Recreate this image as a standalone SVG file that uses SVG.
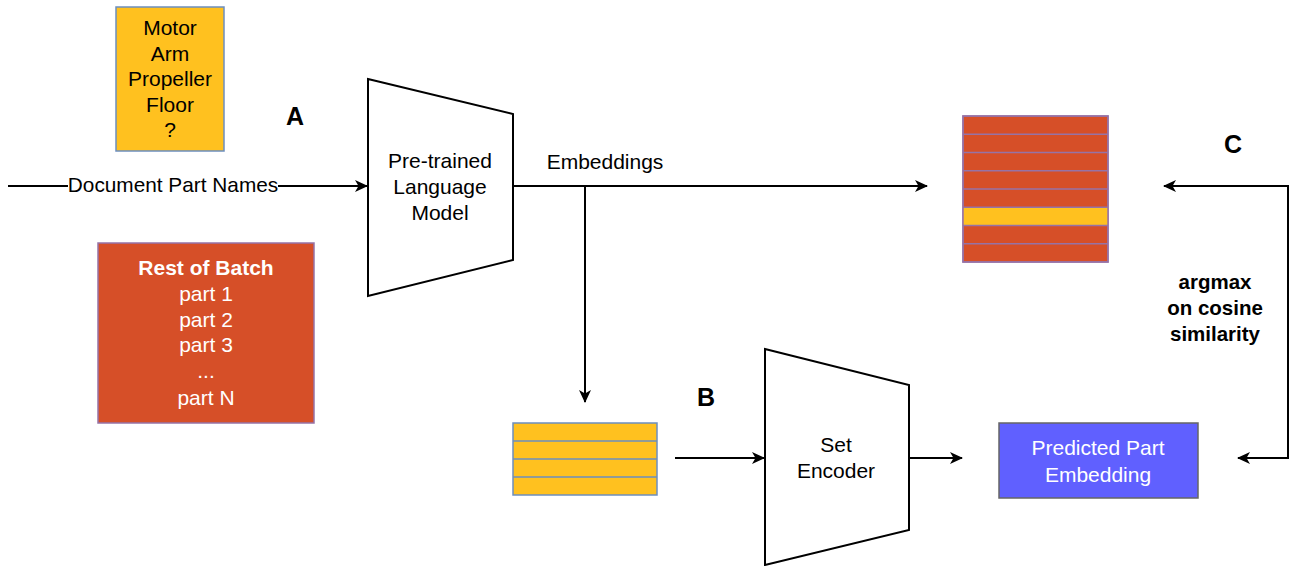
<svg xmlns="http://www.w3.org/2000/svg" width="1291" height="566" viewBox="0 0 1291 566">
<style>
text{font-family:"Liberation Sans",Arial,sans-serif;text-anchor:middle;fill:#000}
.t{font-size:21px}
.w{fill:#fff}
.b{font-weight:bold}
.big{font-size:25px;font-weight:bold}
.ln{fill:none;stroke:#000;stroke-width:2}
.yel{fill:#FFC11F}
.org{fill:#D64F28}
.trap{fill:#fff;stroke:#000;stroke-width:2;stroke-linejoin:miter}
</style>
<defs>
<marker id="ah" viewBox="0 0 13 12" markerWidth="13" markerHeight="12" refX="12" refY="6" orient="auto-start-reverse" markerUnits="userSpaceOnUse">
<path d="M0,0 L13,6 L0,12 L3.5,6 Z" fill="#000"/>
</marker>
</defs>
<rect width="1291" height="566" fill="#fff"/>

<g id="connectors">
<path class="ln" d="M8,186 H367" marker-end="url(#ah)"/>
<path class="ln" d="M513,186 H927" marker-end="url(#ah)"/>
<path class="ln" d="M585,186 V402" marker-end="url(#ah)"/>
<path class="ln" d="M675,458 H764" marker-end="url(#ah)"/>
<path class="ln" d="M909,458 H962" marker-end="url(#ah)"/>
<path class="ln" d="M1238,458 H1288 V186 H1164" marker-start="url(#ah)" marker-end="url(#ah)"/>
<rect x="68" y="174" width="210" height="24" fill="#fff"/>
<text class="t" x="173" y="192" style="font-size:20.8px">Document Part Names</text>
<text class="t" x="605" y="169">Embeddings</text>
<text x="1215" y="289" style="font-weight:bold;font-size:20.5px">argmax</text>
<text x="1215" y="315" style="font-weight:bold;font-size:20.5px">on cosine</text>
<text x="1215" y="341" style="font-weight:bold;font-size:20.5px">similarity</text>
</g>

<g id="label-A"><text class="big" x="295" y="125">A</text></g>
<g id="label-B"><text class="big" x="706" y="406">B</text></g>
<g id="label-C"><text class="big" x="1233" y="153">C</text></g>

<g id="part-names">
<rect x="116" y="7" width="108" height="144" class="yel" stroke="#6c8ebf" stroke-width="1.5"/>
<text class="t" x="170" y="35">Motor</text>
<text class="t" x="170" y="60.5">Arm</text>
<text class="t" x="170" y="86">Propeller</text>
<text class="t" x="170" y="112">Floor</text>
<text class="t" x="170" y="137">?</text>
</g>

<g id="rest-of-batch">
<rect x="98" y="243" width="216" height="180" class="org" stroke="#9673a6" stroke-width="1.5"/>
<text class="t w b" x="206" y="275">Rest of Batch</text>
<text class="t w" x="206" y="301">part 1</text>
<text class="t w" x="206" y="327">part 2</text>
<text class="t w" x="206" y="352">part 3</text>
<text class="t w" x="206" y="378">...</text>
<text class="t w" x="206" y="405">part N</text>
</g>

<g id="language-model">
<polygon class="trap" points="368,79 513,114 513,260 368,296"/>
<text class="t" x="440" y="168">Pre-trained</text>
<text class="t" x="440" y="194">Language</text>
<text class="t" x="440" y="220">Model</text>
</g>

<g id="embedding-table">
<rect x="963" y="116" width="145" height="146" class="org" stroke="#9673a6" stroke-width="1.5"/>
<rect x="963" y="207.25" width="145" height="18.25" class="yel"/>
<path d="M963,134.25 H1108 M963,152.5 H1108 M963,170.75 H1108 M963,189 H1108 M963,207.25 H1108 M963,225.5 H1108 M963,243.75 H1108" stroke="#9673a6" stroke-width="1.5"/>
<rect x="963" y="116" width="145" height="146" fill="none" stroke="#9673a6" stroke-width="1.5"/>
</g>

<g id="set-embeddings">
<rect x="513" y="423" width="144" height="72" class="yel" stroke="#6c8ebf" stroke-width="1.5"/>
<path d="M513,441 H657 M513,459 H657 M513,477 H657" stroke="#6c8ebf" stroke-width="1.5"/>
</g>

<g id="set-encoder">
<polygon class="trap" points="765,349 909,385 909,530 765,565"/>
<text class="t" x="836" y="452">Set</text>
<text class="t" x="836" y="478">Encoder</text>
</g>

<g id="predicted">
<rect x="999" y="423" width="199" height="75" fill="#6060FF" stroke="#666" stroke-width="1.5"/>
<text class="t w" x="1098" y="455">Predicted Part</text>
<text class="t w" x="1098" y="482">Embedding</text>
</g>
</svg>
